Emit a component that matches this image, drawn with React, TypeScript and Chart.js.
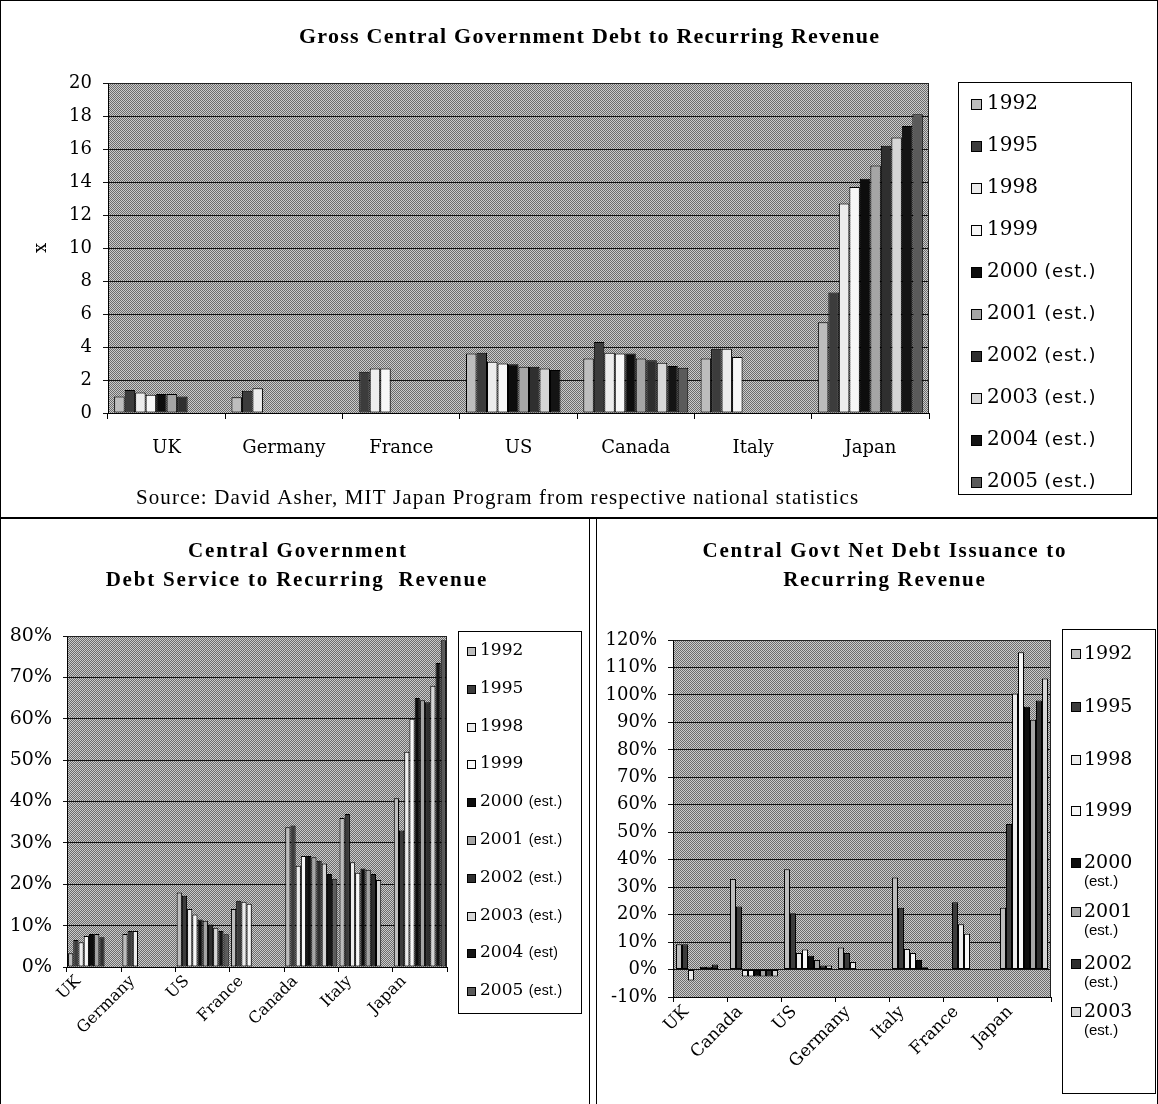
import { useEffect, useRef } from 'react';
import { Chart, registerables } from 'chart.js';

Chart.register(...registerables);
Chart.defaults.font.family = '"DejaVu Serif", serif';
Chart.defaults.color = '#000';

// ---------------- Shared ----------------
const SERIES_COLORS = ['#bdbdbd', '#3c3c3c', '#ececec', '#f7f7f7', '#0d0d0d', '#a5a5a5', '#2f2f2f', '#d6d6d6', '#141414', '#5a5a5a'];

// ---------------- Chart 1: Gross debt ----------------
const GROSS_TITLE = 'Gross Central Government Debt to Recurring Revenue';
const GROSS_SOURCE = 'Source: David Asher, MIT Japan Program from respective national statistics';
const GROSS_Y_TITLE = 'x';
const GROSS_CATEGORIES = ['UK', 'Germany', 'France', 'US', 'Canada', 'Italy', 'Japan'];
const GROSS_YEARS = ['1992', '1995', '1998', '1999', '2000 (est.)', '2001 (est.)', '2002 (est.)', '2003 (est.)', '2004 (est.)', '2005 (est.)'];
const GROSS_Y_TICKS = [0, 2, 4, 6, 8, 10, 12, 14, 16, 18, 20];
const grossUK = [1.0, 1.4, 1.25, 1.1, 1.15, 1.15, 1.0, null, null, null];
const grossGermany = [0.95, 1.35, 1.5, null, null, null, null, null, null, null];
const grossFrance = [null, 2.5, 2.7, 2.7, null, null, null, null, null, null];
const grossUS = [3.6, 3.65, 3.1, 3.0, 2.95, 2.8, 2.8, 2.7, 2.6, null];
const grossCanada = [3.3, 4.3, 3.65, 3.6, 3.6, 3.3, 3.2, 3.05, 2.85, 2.75];
const grossItaly = [3.3, 3.9, 3.9, 3.4, null, null, null, null, null, null];
const grossJapan = [5.5, 7.3, 12.7, 13.7, 14.2, 15.0, 16.2, 16.7, 17.4, 18.1];

// ---------------- Chart 2: Debt service ----------------
const SVC_TITLE_1 = 'Central Government';
const SVC_TITLE_2 = 'Debt Service to Recurring  Revenue';
const SVC_CATEGORIES = ['UK', 'Germany', 'US', 'France', 'Canada', 'Italy', 'Japan'];
const SVC_YEARS = ['1992', '1995', '1998', '1999', '2000 (est.)', '2001 (est.)', '2002 (est.)', '2003 (est.)', '2004 (est)', '2005 (est.)'];
const SVC_Y_TICKS = [0, 10, 20, 30, 40, 50, 60, 70, 80];
const svcUK = [3.3, 6.5, 6.0, 7.5, 8.0, 8.0, 7.2, null, null, null];
const svcGermany = [8.0, 8.7, 8.7, null, null, null, null, null, null, null];
const svcUS = [18.0, 17.2, 14.0, 12.7, 11.5, 11.2, 10.3, 9.5, 8.7, 7.9];
const svcFrance = [14.0, 16.0, 15.8, 15.3, null, null, null, null, null, null];
const svcCanada = [33.8, 34.2, 24.5, 26.8, 26.8, 26.5, 25.7, 25.0, 22.5, 21.3];
const svcItaly = [36.0, 37.0, 25.3, 22.8, 23.8, 23.5, 22.5, 21.0, null, null];
const svcJapan = [40.8, 33.0, 52.0, 60.0, 65.0, 64.5, 64.0, 68.0, 73.5, 79.0];

// ---------------- Chart 3: Net debt issuance ----------------
const ISS_TITLE_1 = 'Central Govt Net Debt Issuance to';
const ISS_TITLE_2 = 'Recurring Revenue';
const ISS_CATEGORIES = ['UK', 'Canada', 'US', 'Germany', 'Italy', 'France', 'Japan'];
const ISS_YEARS = ['1992', '1995', '1998', '1999', '2000 (est.)', '2001 (est.)', '2002 (est.)', '2003 (est.)'];
const ISS_Y_TICKS = [-10, 0, 10, 20, 30, 40, 50, 60, 70, 80, 90, 100, 110, 120];
const issUK = [9.2, 9.2, -4.0, null, 1.0, 1.0, 1.8, null];
const issCanada = [33.0, 23.0, -2.5, -2.5, -2.5, -2.5, -2.5, -2.5];
const issUS = [36.5, 20.5, 6.0, 7.3, 5.0, 3.5, 1.5, 1.5];
const issGermany = [8.0, 6.0, 2.7, null, null, null, null, null];
const issItaly = [33.5, 22.5, 7.5, 6.0, 3.5, 0.8, null, null];
const issFrance = [null, 24.5, 16.5, 13.0, null, null, null, null];
const issJapan = [22.5, 53.0, 100.5, 115.5, 95.7, 91.0, 98.0, 106.0];

// ---------------- helpers ----------------
function makeHalftone(ctx: CanvasRenderingContext2D) {
  const c = document.createElement('canvas');
  c.width = 2;
  c.height = 2;
  const g = c.getContext('2d')!;
  g.fillStyle = '#cbcbcb';
  g.fillRect(0, 0, 2, 2);
  g.fillStyle = '#6c6c6c';
  g.fillRect(0, 0, 1, 1);
  g.fillRect(1, 1, 1, 1);
  return ctx.createPattern(c, 'repeat');
}

function makeDecor(cfg: any) {
  let pattern: any = null;
  return {
    id: 'decor',
    beforeDraw(chart: any) {
      const { ctx, chartArea: a } = chart;
      if (!pattern) pattern = makeHalftone(ctx);
      ctx.save();
      ctx.fillStyle = '#ffffff';
      ctx.fillRect(0, 0, chart.width, chart.height);
      ctx.fillStyle = pattern;
      ctx.fillRect(a.left, a.top, a.right - a.left, a.bottom - a.top);
      ctx.restore();
    },
    afterDraw(chart: any) {
      const { ctx, chartArea: a } = chart;
      ctx.save();
      ctx.strokeStyle = '#222';
      ctx.lineWidth = 1;
      ctx.beginPath();
      ctx.moveTo(Math.round(a.left) + 0.5, Math.round(a.top) + 0.5);
      ctx.lineTo(Math.round(a.right) - 0.5, Math.round(a.top) + 0.5);
      ctx.lineTo(Math.round(a.right) - 0.5, Math.round(a.bottom));
      ctx.stroke();

      ctx.fillStyle = '#000';
      ctx.textBaseline = 'middle';
      ctx.textAlign = 'left';
      for (const t of cfg.texts) {
        ctx.font = t.font;
        (ctx as any).letterSpacing = t.spacing + 'px';
        const w = ctx.measureText(t.text).width - t.spacing;
        ctx.fillText(t.text, t.x - w / 2, t.y);
      }
      (ctx as any).letterSpacing = '0px';

      const L = cfg.legend;
      ctx.strokeStyle = '#000';
      ctx.strokeRect(L.x + 0.5, L.y + 0.5, L.w, L.h);
      chart.data.datasets.forEach((ds: any, i: number) => {
        const y = L.ys[i];
        if (y == null) return;
        const top = Math.round(y - L.swatch / 2);
        ctx.fillStyle = ds.backgroundColor;
        ctx.fillRect(L.swatchX, top, L.swatch, L.swatch);
        ctx.strokeStyle = '#000';
        ctx.strokeRect(L.swatchX + 0.5, top + 0.5, L.swatch - 1, L.swatch - 1);
        ctx.fillStyle = '#000';
        const label: string = L.labels[i];
        const sp = label.indexOf(' ');
        if (sp < 0) {
          ctx.font = L.font;
          ctx.fillText(label, L.textX, y);
        } else {
          const main = label.slice(0, sp);
          const rest = label.slice(sp + 1);
          ctx.font = L.font;
          ctx.fillText(main, L.textX, y);
          if (L.wrap) {
            ctx.font = L.subFont;
            ctx.fillText(rest, L.textX, y + L.wrapGap);
          } else {
            const w = ctx.measureText(main + ' ').width;
            ctx.font = L.subFont;
            (ctx as any).letterSpacing = (L.subSpacing || 0) + 'px';
            ctx.fillText(rest, L.textX + w, y);
            (ctx as any).letterSpacing = '0px';
          }
        }
      });
      ctx.restore();
    },
  };
}

function buildDatasets(years: string[], rows: (number | null)[][], catPct: number) {
  return years.map((y, i) => ({
    label: y,
    data: rows.map((r) => r[i]),
    backgroundColor: SERIES_COLORS[i],
    borderColor: '#000',
    borderWidth: 1,
    borderSkipped: false,
    categoryPercentage: catPct,
    barPercentage: 1,
  }));
}

function grossConfig(): any {
  return {
    type: 'bar',
    data: {
      labels: GROSS_CATEGORIES,
      datasets: buildDatasets(GROSS_YEARS, [grossUK, grossGermany, grossFrance, grossUS, grossCanada, grossItaly, grossJapan], 0.895),
    },
    options: {
      responsive: false,
      animation: false,
      devicePixelRatio: 1,
      layout: { padding: { top: 83, right: 229, bottom: 44, left: 0 } },
      plugins: { legend: { display: false }, title: { display: false }, tooltip: { enabled: false } },
      scales: {
        x: {
          grid: { drawOnChartArea: false, drawTicks: true, tickLength: 6, color: '#000', offset: true },
          border: { display: true, color: '#000' },
          ticks: { font: { size: 18 }, color: '#000', padding: 19, maxRotation: 0, minRotation: 0, autoSkip: false },
          afterFit: (s: any) => { s.height = 60; },
        },
        y: {
          min: 0,
          max: 20,
          afterBuildTicks: (s: any) => { s.ticks = GROSS_Y_TICKS.map((v) => ({ value: v })); },
          grid: { color: '#111', tickLength: 5, drawTicks: true },
          border: { display: true, color: '#000' },
          ticks: { font: { size: 18 }, color: '#000', padding: 11 },
          title: { display: true, text: GROSS_Y_TITLE, font: { size: 18 }, color: '#000', padding: { top: 31, bottom: 0 } },
          afterFit: (s: any) => { s.width = 108; },
        },
      },
    },
    plugins: [
      makeDecor({
        texts: [
          { text: GROSS_TITLE, x: 589, y: 37, font: 'bold 22px "Liberation Serif"', spacing: 1.25 },
          { text: GROSS_SOURCE, x: 497, y: 498, font: '21px "Liberation Serif"', spacing: 1.1 },
        ],
        legend: {
          x: 958, y: 82, w: 173, h: 412,
          ys: GROSS_YEARS.map((_, i) => 104 + 42 * i),
          labels: GROSS_YEARS,
          swatch: 11, swatchX: 971, textX: 987,
          font: '20px "DejaVu Serif"', subFont: '18px "DejaVu Sans"', subSpacing: 0.8, wrap: false,
        },
      }),
    ],
  };
}

function svcConfig(): any {
  return {
    type: 'bar',
    data: {
      labels: SVC_CATEGORIES,
      datasets: buildDatasets(SVC_YEARS, [svcUK, svcGermany, svcUS, svcFrance, svcCanada, svcItaly, svcJapan], 0.96),
    },
    options: {
      responsive: false,
      animation: false,
      devicePixelRatio: 1,
      layout: { padding: { top: 117, right: 142, bottom: 37, left: 0 } },
      plugins: { legend: { display: false }, title: { display: false }, tooltip: { enabled: false } },
      scales: {
        x: {
          grid: { drawOnChartArea: false, drawTicks: true, tickLength: 5, color: '#000', offset: true },
          border: { display: true, color: '#000' },
          ticks: { font: { size: 16 }, color: '#000', padding: 0, maxRotation: 45, minRotation: 45, autoSkip: false, labelOffset: -16 },
          afterFit: (s: any) => { s.height = 100; },
        },
        y: {
          min: 0,
          max: 80,
          afterBuildTicks: (s: any) => { s.ticks = SVC_Y_TICKS.map((v) => ({ value: v })); },
          grid: { color: '#111', tickLength: 4, drawTicks: true },
          border: { display: true, color: '#000' },
          ticks: { font: { size: 19 }, color: '#000', padding: 11, callback: (v: any) => v + '%' },
          afterFit: (s: any) => { s.width = 67; },
        },
      },
    },
    plugins: [
      makeDecor({
        texts: [
          { text: SVC_TITLE_1, x: 297, y: 33, font: 'bold 21px "Liberation Serif"', spacing: 1.8 },
          { text: SVC_TITLE_2, x: 296, y: 62, font: 'bold 21px "Liberation Serif"', spacing: 1.8 },
        ],
        legend: {
          x: 458, y: 112, w: 123, h: 382,
          ys: SVC_YEARS.map((_, i) => Math.round(132 + 37.8 * i)),
          labels: SVC_YEARS,
          swatch: 9, swatchX: 467, textX: 480,
          font: '17px "DejaVu Serif"', subFont: '14px "Liberation Sans"', subSpacing: 0.3, wrap: false,
        },
      }),
    ],
  };
}

function issConfig(): any {
  return {
    type: 'bar',
    data: {
      labels: ISS_CATEGORIES,
      datasets: buildDatasets(ISS_YEARS, [issUK, issCanada, issUS, issGermany, issItaly, issFrance, issJapan], 0.89),
    },
    options: {
      responsive: false,
      animation: false,
      devicePixelRatio: 1,
      layout: { padding: { top: 121, right: 107, bottom: 27, left: 0 } },
      plugins: { legend: { display: false }, title: { display: false }, tooltip: { enabled: false } },
      scales: {
        x: {
          grid: { drawOnChartArea: false, drawTicks: true, tickLength: 5, color: '#000', offset: true },
          border: { display: true, color: '#000' },
          ticks: { font: { size: 17 }, color: '#000', padding: 0, maxRotation: 45, minRotation: 45, autoSkip: false, labelOffset: -14 },
          afterFit: (s: any) => { s.height = 80; },
        },
        y: {
          min: -10,
          max: 120,
          afterBuildTicks: (s: any) => { s.ticks = ISS_Y_TICKS.map((v) => ({ value: v })); },
          grid: { color: '#111', tickLength: 5, drawTicks: true },
          border: { display: true, color: '#000' },
          ticks: { font: { size: 18 }, color: '#000', padding: 11, callback: (v: any) => v + '%' },
          afterFit: (s: any) => { s.width = 76; },
        },
      },
    },
    plugins: [
      makeDecor({
        texts: [
          { text: ISS_TITLE_1, x: 287, y: 33, font: 'bold 21px "Liberation Serif"', spacing: 1.7 },
          { text: ISS_TITLE_2, x: 287, y: 62, font: 'bold 21px "Liberation Serif"', spacing: 1.7 },
        ],
        legend: {
          x: 465, y: 110, w: 93, h: 464,
          ys: [135, 188, 241, 292, 344, 393, 445, 493],
          labels: ISS_YEARS,
          swatch: 10, swatchX: 474, textX: 487,
          font: '19px "DejaVu Serif"', subFont: '15px "Liberation Sans"', wrap: true, wrapGap: 19,
        },
      }),
    ],
  };
}

function ChartCanvas({ make, left, top, width, height }: any) {
  const ref = useRef<HTMLCanvasElement>(null);
  useEffect(() => {
    const chart = new Chart(ref.current as HTMLCanvasElement, make());
    return () => chart.destroy();
  }, []);
  return (
    <canvas
      ref={ref}
      width={width}
      height={height}
      style={{ position: 'absolute', left, top, width, height, display: 'block' }}
    />
  );
}

const line = (left: number, top: number, width: number, height: number) => (
  <div style={{ position: 'absolute', left, top, width, height, background: '#000' }} />
);

export default function App() {
  return (
    <div style={{ position: 'absolute', left: 0, top: 0, width: 1158, height: 1104, background: '#fff', overflow: 'hidden' }}>
      <ChartCanvas make={grossConfig} left={0} top={0} width={1158} height={517} />
      <ChartCanvas make={svcConfig} left={0} top={519} width={589} height={585} />
      <ChartCanvas make={issConfig} left={597} top={519} width={561} height={585} />
      {line(0, 0, 1, 1104)}
      {line(1157, 0, 1, 1104)}
      {line(0, 0, 1158, 1)}
      {line(0, 517, 1158, 2)}
      {line(589, 519, 1, 585)}
      {line(596, 519, 1, 585)}
    </div>
  );
}
